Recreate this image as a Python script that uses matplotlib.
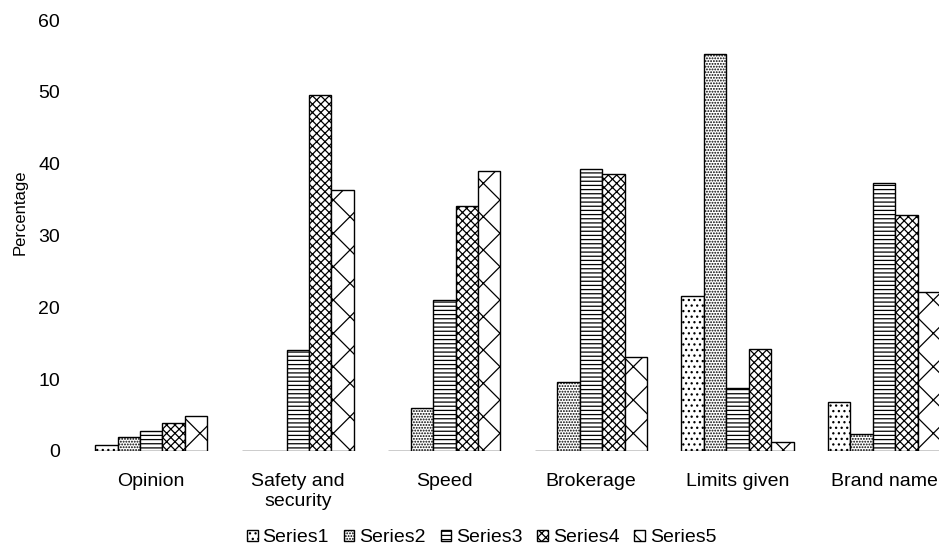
import numpy as np
import matplotlib as mpl
import matplotlib.pyplot as plt

mpl.rcParams['font.family'] = ['Liberation Sans', 'DejaVu Sans']
mpl.rcParams['hatch.linewidth'] = 0.9

categories = ['Opinion', 'Safety and\nsecurity', 'Speed', 'Brokerage', 'Limits given', 'Brand name']
series1 = [0.8, 0, 0, 0, 21.6, 6.8]
series2 = [1.9, 0, 6.0, 9.6, 55.2, 2.3]
series3 = [2.8, 14.0, 21.0, 39.2, 8.7, 37.3]
series4 = [3.9, 49.5, 34.1, 38.6, 14.2, 32.8]
series5 = [4.9, 36.4, 39.0, 13.1, 1.2, 22.2]
names = ['Series1', 'Series2', 'Series3', 'Series4', 'Series5']

hatches = ['...', '......', '----', 'xxxx', 'x']

fig = plt.figure(figsize=(9.39, 5.51), dpi=100)
ax = fig.add_axes([0.083, 0.1815, 0.917, 0.7822])

x = np.arange(len(categories))
w = 0.153
for k, (vals, h, name) in enumerate(zip([series1, series2, series3, series4, series5], hatches, names)):
    ax.bar(x + (k - 2) * w, vals, w, color='white', edgecolor='black',
           linewidth=1.0, hatch=h, label=name)

ax.set_xlim(-0.5, 5.375)
ax.set_ylim(0, 60)
ax.set_yticks(range(0, 61, 10))
ax.set_xticks(x)
ax.set_xticklabels(categories, fontsize=14)
ax.tick_params(axis='both', length=0, labelsize=14)
ax.tick_params(axis='y', pad=13)
ax.tick_params(axis='x', pad=16)
for s in ax.spines.values():
    s.set_visible(False)

# y label sits a little above the axis midpoint
fig.text(20 / 939, 1 - 212 / 551, 'Percentage', rotation=90, fontsize=12,
         ha='center', va='center')

fig.legend(loc='center', bbox_to_anchor=(0.513, 0.024), ncol=5, frameon=False,
           fontsize=14, handlelength=0.55, handleheight=0.55, handletextpad=0.26,
           columnspacing=0.75, borderpad=0)

fig.savefig('out.png', dpi=100)
